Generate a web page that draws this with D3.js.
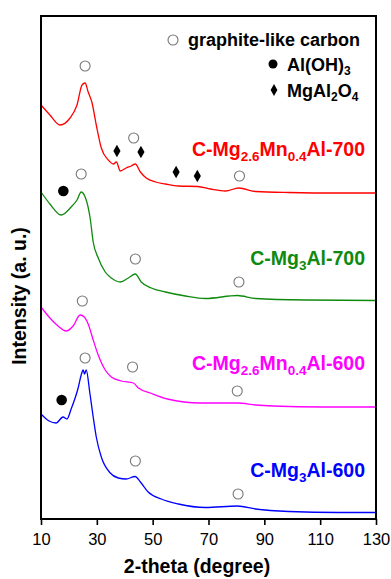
<!DOCTYPE html>
<html>
<head>
<meta charset="utf-8">
<script src="https://cdn.jsdelivr.net/npm/d3@7"></script>
<style>
  body { margin: 0; background: #fff; }
  svg { display: block; font-family: Arial, "Liberation Sans", sans-serif; }
  .tick text { font-size: 16.5px; fill: #000; }
  .tick line { stroke: #000; stroke-width: 1.6px; }
</style>
</head>
<body>
<div id="chart"></div>
<script>
// XRD patterns, [2-theta, intensity (a.u., offset stacked)]
const cMg26Mn04Al700 = [
  [10, 414], [13.2, 404], [16.8, 394], [20.4, 401], [22.9, 414], [24.7, 434], [25.8, 436],
  [26.9, 427], [28.3, 416], [29.8, 394], [31.6, 371], [34.1, 359], [35.9, 355], [37.0, 357],
  [38.4, 348], [40.5, 351], [42.3, 353], [43.8, 355], [45.6, 347], [47.7, 341], [51.0, 337],
  [54.6, 335], [59.2, 333], [66.1, 332.5], [70.7, 330], [76.1, 328], [80.8, 331], [86.9, 327.5],
  [98.8, 326.5], [116.7, 326], [130, 326]
]
const cMg3Al700 = [
  [10, 327], [13.2, 315], [17.2, 304], [20.8, 312], [22.9, 319], [24.4, 327], [26.2, 319],
  [27.6, 301], [28.7, 277], [30.5, 261], [33.0, 247], [35.2, 241], [38.4, 237], [41.3, 241],
  [43.8, 245], [45.9, 237], [49.5, 231], [54.6, 227], [61.7, 223], [68.9, 220.5], [80.4, 223.5],
  [86.9, 220.5], [104.9, 219], [130, 218.5]
]
const cMg26Mn04Al600 = [
  [10, 212], [13.2, 201], [16.1, 193], [19.0, 188], [21.5, 193], [24.0, 204], [25.5, 202],
  [26.9, 195], [28.7, 179], [30.5, 164], [33.0, 149], [35.2, 142], [38.7, 138], [43.1, 136],
  [44.9, 131], [49.2, 126], [55.3, 120], [67.1, 116], [80.4, 116], [86.9, 114], [93.0, 113],
  [111.0, 112], [130, 112]
]
const cMg3Al600 = [
  [10, 105], [12.9, 98], [15.4, 96], [17.9, 102], [19.3, 100], [20.8, 110], [23.3, 131],
  [24.4, 144], [25.1, 149], [25.6, 145], [26.2, 149], [27.5, 126], [28.7, 102], [29.8, 82],
  [31.6, 62], [34.8, 46], [37.7, 41], [40.5, 40], [43.7, 42.5], [45.6, 37], [48.4, 27],
  [53.1, 20], [59.2, 15], [68.9, 11.5], [80.4, 13], [86.9, 10], [98.8, 7.5], [116.7, 6.5], [130, 6.5]
]

// phase markers [2-theta, intensity]
const graphitePeaks = [
  [25.8, 453], [43.2, 381], [81.1, 343],
  [24.4, 345], [43.8, 260], [80.9, 237],
  [24.8, 218], [42.8, 152], [80.3, 128],
  [25.8, 161], [43.8, 58], [80.6, 25]
]
const alOH3Peaks = [[18, 328], [17.4, 119]]
const spinelPeaks = [[37.2, 368], [45.8, 367], [58.4, 347], [66, 343]]

const xTicks = [10, 30, 50, 70, 90, 110, 130]

const series = [
  { data: cMg26Mn04Al700, color: '#ff0000', label: [['C-Mg'], ['2.6', 1], ['Mn'], ['0.4', 1], ['Al-700']], ly: 156 },
  { data: cMg3Al700, color: '#0f8a0f', label: [['C-Mg'], ['3', 1], ['Al-700']], ly: 265 },
  { data: cMg26Mn04Al600, color: '#ff00ff', label: [['C-Mg'], ['2.6', 1], ['Mn'], ['0.4', 1], ['Al-600']], ly: 370 },
  { data: cMg3Al600, color: '#0000ff', label: [['C-Mg'], ['3', 1], ['Al-600']], ly: 477 }
]

const W = 391, H = 579
const box = { left: 41, right: 376, top: 16, bottom: 519 }

const svg = d3.select('#chart').append('svg')
  .attr('width', W)
  .attr('height', H)

const x = d3.scaleLinear().domain([10, 130]).range([box.left, box.right])
const y = d3.scaleLinear().domain([0, 503]).range([box.bottom, box.top])

const line = d3.line()
  .x(d => x(d[0]))
  .y(d => y(d[1]))
  .curve(d3.curveMonotoneX)

svg.selectAll('path.pattern')
  .data(series)
  .enter()
  .append('path')
  .attr('class', 'pattern')
  .attr('d', d => line(d.data))
  .attr('fill', 'none')
  .attr('stroke', d => d.color)
  .attr('stroke-width', 1.3)

// series labels with subscripts
series.forEach(s => {
  const t = svg.append('text')
    .attr('x', 365)
    .attr('y', s.ly)
    .attr('text-anchor', 'end')
    .attr('font-weight', 'bold')
    .attr('font-size', 19.5)
    .attr('fill', s.color)
  let prevSub = false
  s.label.forEach(p => {
    t.append('tspan')
      .attr('font-size', p[1] ? 13.5 : 19.5)
      .attr('dy', p[1] ? 5 : (prevSub ? -5 : 0))
      .text(p[0])
    prevSub = !!p[1]
  })
})

// markers
svg.selectAll('circle.graphite')
  .data(graphitePeaks)
  .enter()
  .append('circle')
  .attr('class', 'graphite')
  .attr('cx', d => x(d[0]))
  .attr('cy', d => y(d[1]))
  .attr('r', 5)
  .attr('fill', '#fff')
  .attr('stroke', '#777')
  .attr('stroke-width', 1.1)

svg.selectAll('circle.aloh')
  .data(alOH3Peaks)
  .enter()
  .append('circle')
  .attr('class', 'aloh')
  .attr('cx', d => x(d[0]))
  .attr('cy', d => y(d[1]))
  .attr('r', 5.3)
  .attr('fill', '#000')

const diamond = d3.symbol().type(d3.symbolDiamond).size(44)
svg.selectAll('path.spinel')
  .data(spinelPeaks)
  .enter()
  .append('path')
  .attr('class', 'spinel')
  .attr('transform', d => 'translate(' + x(d[0]) + ',' + y(d[1]) + ')')
  .attr('d', diamond)
  .attr('fill', '#000')

// legend
const legend = svg.append('g').attr('font-weight', 'bold').attr('font-size', 18)
legend.append('circle')
  .attr('cx', 173).attr('cy', 40).attr('r', 5)
  .attr('fill', '#fff').attr('stroke', '#777').attr('stroke-width', 1.1)
legend.append('text').attr('x', 188).attr('y', 46).text('graphite-like carbon')

legend.append('circle')
  .attr('cx', 273).attr('cy', 64).attr('r', 4.5)
  .attr('fill', '#000')
const l2 = legend.append('text').attr('x', 287).attr('y', 71)
l2.append('tspan').text('Al(OH)')
l2.append('tspan').attr('font-size', 12).attr('dy', 4).text('3')

legend.append('path')
  .attr('transform', 'translate(274,90)')
  .attr('d', d3.symbol().type(d3.symbolDiamond).size(40))
  .attr('fill', '#000')
const l3 = legend.append('text').attr('x', 287).attr('y', 97)
l3.append('tspan').text('MgAl')
l3.append('tspan').attr('font-size', 12).attr('dy', 4).text('2')
l3.append('tspan').attr('dy', -4).text('O')
l3.append('tspan').attr('font-size', 12).attr('dy', 4).text('4')

// axes and frame
const xAxis = svg.append('g')
  .attr('transform', 'translate(0,' + box.bottom + ')')
  .call(d3.axisBottom(x).tickValues(xTicks).tickSize(6).tickSizeOuter(0).tickPadding(5))
xAxis.select('.domain').remove()
xAxis.selectAll('.tick text').attr('dy', '0.9em')

svg.append('rect')
  .attr('x', box.left)
  .attr('y', box.top)
  .attr('width', box.right - box.left)
  .attr('height', box.bottom - box.top)
  .attr('fill', 'none')
  .attr('stroke', '#000')
  .attr('stroke-width', 2)

svg.append('text')
  .attr('x', 197)
  .attr('y', 573)
  .attr('text-anchor', 'middle')
  .attr('font-weight', 'bold')
  .attr('font-size', 19.5)
  .text('2-theta (degree)')

svg.append('text')
  .attr('transform', 'translate(26,296) rotate(-90)')
  .attr('text-anchor', 'middle')
  .attr('font-weight', 'bold')
  .attr('font-size', 19.5)
  .text('Intensity (a. u.)')
</script>
</body>
</html>
